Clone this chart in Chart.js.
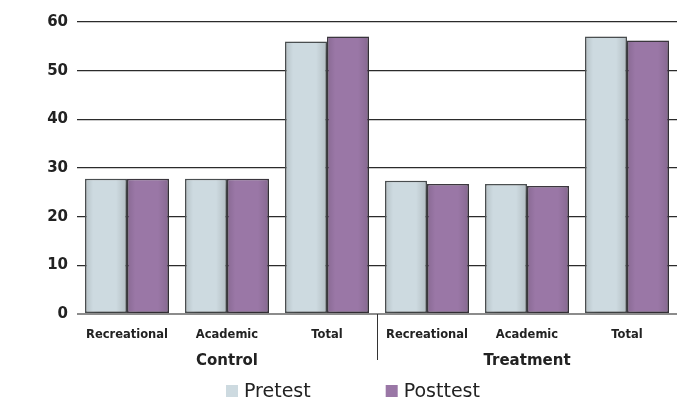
<!DOCTYPE html>
<html>
<head>
<meta charset="utf-8">
<script src="https://cdn.jsdelivr.net/npm/chart.js@4"></script>
<style>
  html, body { margin: 0; padding: 0; background: #ffffff; }
  #chart { display: block; }
</style>
</head>
<body>
<canvas id="chart" width="683" height="400"></canvas>
<script>
// Reading-attitude scores by group and subscale
const categories = ['Recreational', 'Academic', 'Total', 'Recreational', 'Academic', 'Total'];
const groups = ['Control', 'Treatment'];
const groupSize = 3;
const seriesNames = ['Pretest', 'Posttest'];
const pretest = [27.8, 27.8, 56.0, 27.4, 26.7, 57.0];
const posttest = [27.8, 27.8, 57.0, 26.7, 26.3, 56.2];
const yMin = 0, yMax = 60, yStep = 10;

const pretestColor = '#cddae0';
const posttestColor = '#9a77a6';
const textColor = '#222222';
const boldFamily = '"DejaVu Sans", "Liberation Sans", Arial, sans-serif';

// Soft drop shadow behind the bars
const barShadow = {
  id: 'barShadow',
  beforeDatasetsDraw(chart) {
    const ctx = chart.ctx;
    ctx.save();
    ctx.shadowColor = 'rgba(0,0,0,0.34)';
    ctx.shadowBlur = 11;
    ctx.shadowOffsetX = 3;
    ctx.shadowOffsetY = 4;
  },
  afterDatasetsDraw(chart) {
    const ctx = chart.ctx;
    ctx.restore();
    // subtle shading toward each bar's side edges
    chart.data.datasets.forEach((ds, i) => {
      const meta = chart.getDatasetMeta(i);
      meta.data.forEach(bar => {
        const p = bar.getProps(['x', 'y', 'base', 'width'], true);
        const left = p.x - p.width / 2 + 1;
        const right = p.x + p.width / 2 - 1;
        const g = ctx.createLinearGradient(left, 0, right, 0);
        g.addColorStop(0, 'rgba(0,0,0,0.10)');
        g.addColorStop(0.18, 'rgba(0,0,0,0.0)');
        g.addColorStop(0.75, 'rgba(0,0,0,0.0)');
        g.addColorStop(1, 'rgba(0,0,0,0.12)');
        ctx.save();
        ctx.fillStyle = g;
        ctx.fillRect(left, p.y + 1, right - left, p.base - p.y - 2);
        ctx.restore();
      });
    });
  }
};

// Group names under the category labels, a divider between groups, and the legend
const groupAxis = {
  id: 'groupAxis',
  afterDraw(chart) {
    const ctx = chart.ctx;
    const x = chart.scales.x;
    const area = chart.chartArea;
    ctx.save();
    ctx.fillStyle = textColor;
    ctx.font = 'bold 15px ' + boldFamily;
    ctx.textAlign = 'center';
    ctx.textBaseline = 'alphabetic';
    groups.forEach((name, gi) => {
      const first = x.getPixelForTick(gi * groupSize);
      const last = x.getPixelForTick(gi * groupSize + groupSize - 1);
      ctx.fillText(name, (first + last) / 2, 365);
    });
    for (let gi = 1; gi < groups.length; gi++) {
      const a = x.getPixelForTick(gi * groupSize - 1);
      const b = x.getPixelForTick(gi * groupSize);
      const sx = Math.round((a + b) / 2) + 0.5;
      ctx.strokeStyle = '#333333';
      ctx.lineWidth = 1;
      ctx.beginPath();
      ctx.moveTo(sx, area.bottom);
      ctx.lineTo(sx, 360);
      ctx.stroke();
    }

    // legend
    ctx.font = '19px ' + boldFamily;
    ctx.textAlign = 'left';
    ctx.textBaseline = 'alphabetic';
    let lx = 226;
    const box = 12;
    chart.data.datasets.forEach(ds => {
      ctx.fillStyle = ds.backgroundColor;
      ctx.fillRect(lx, 385, box, box);
      ctx.fillStyle = textColor;
      ctx.fillText(ds.label, lx + box + 6, 397);
      lx += box + 6 + ctx.measureText(ds.label).width + 75;
    });
    ctx.restore();
  }
};

new Chart(document.getElementById('chart'), {
  type: 'bar',
  data: {
    labels: categories,
    datasets: [
      {
        label: seriesNames[0],
        data: pretest,
        backgroundColor: pretestColor,
        borderColor: '#4f5456',
        borderWidth: 1.5,
        borderSkipped: false,
        clip: false
      },
      {
        label: seriesNames[1],
        data: posttest,
        backgroundColor: posttestColor,
        borderColor: '#3f3a42',
        borderWidth: 1.5,
        borderSkipped: false,
        clip: false
      }
    ]
  },
  options: {
    responsive: false,
    devicePixelRatio: 1,
    animation: false,
    events: [],
    categoryPercentage: 0.84,
    barPercentage: 1.0,
    layout: { padding: { top: 22, right: 6, left: 0, bottom: 0 } },
    plugins: {
      legend: { display: false },
      tooltip: { enabled: false }
    },
    scales: {
      x: {
        grid: { display: false },
        border: { display: false },
        ticks: {
          color: textColor,
          font: { family: boldFamily, size: 11.5, weight: 'bold' },
          padding: 6,
          maxRotation: 0,
          autoSkip: false
        },
        afterFit(scale) { scale.height = 86; }
      },
      y: {
        min: yMin,
        max: yMax,
        border: { display: false },
        grid: {
          drawTicks: false,
          color: c => (c.tick && c.tick.value === 0 ? '#8c8c8c' : '#2b2b2b'),
          lineWidth: c => (c.tick && c.tick.value === 0 ? 2 : 1.2)
        },
        ticks: {
          stepSize: yStep,
          color: textColor,
          font: { family: boldFamily, size: 15, weight: 'bold' },
          padding: 9
        },
        afterFit(scale) { scale.width = 77; }
      }
    }
  },
  plugins: [barShadow, groupAxis]
});
</script>
</body>
</html>
